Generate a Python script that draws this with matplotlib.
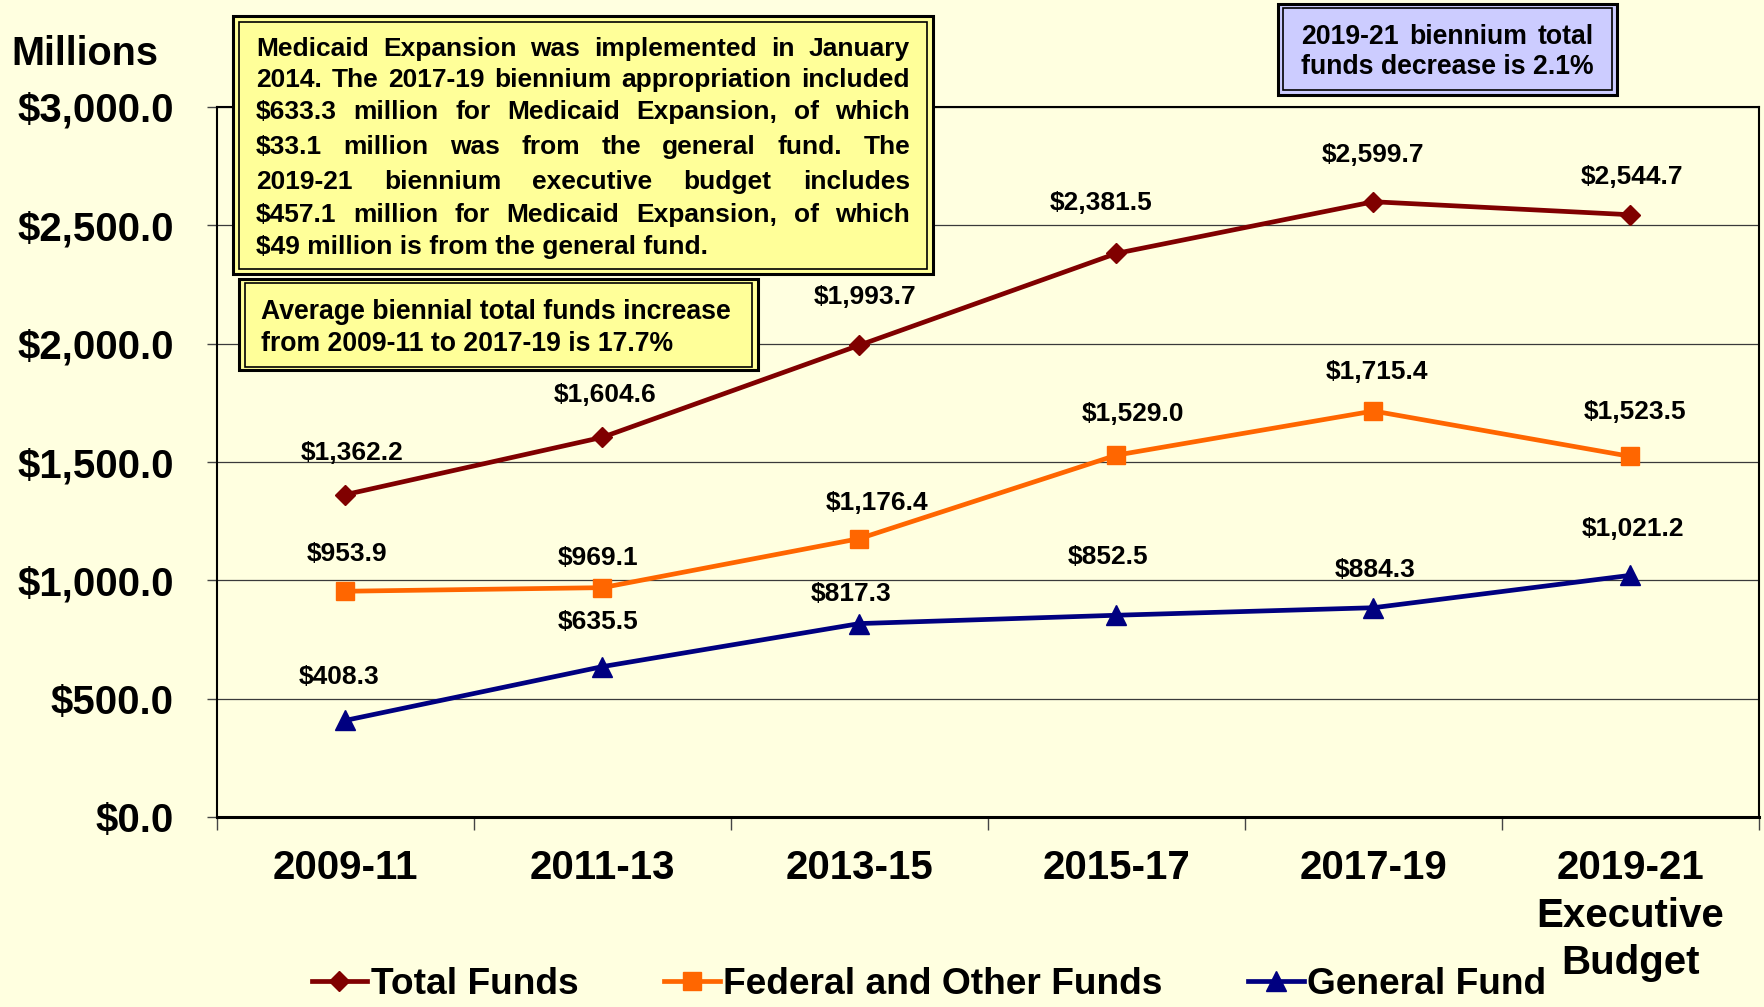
import matplotlib
matplotlib.use('Agg')
import matplotlib.pyplot as plt
from matplotlib.patches import Rectangle
from matplotlib.lines import Line2D
import numpy as np

plt.rcParams['font.family'] = ['Liberation Sans', 'DejaVu Sans']
plt.rcParams['font.weight'] = 'bold'
plt.rcParams['text.parse_math'] = False

# ---------------- data ----------------
categories = ['2009-11', '2011-13', '2013-15', '2015-17', '2017-19',
              '2019-21\nExecutive\nBudget']
total_funds = [1362.2, 1604.6, 1993.7, 2381.5, 2599.7, 2544.7]
federal_other = [953.9, 969.1, 1176.4, 1529.0, 1715.4, 1523.5]
general_fund = [408.3, 635.5, 817.3, 852.5, 884.3, 1021.2]
series_names = ['Total Funds', 'Federal and Other Funds', 'General Fund']
y_ticks = [0, 500, 1000, 1500, 2000, 2500, 3000]

note_main = ["Medicaid Expansion was implemented in January",
             "2014. The 2017-19 biennium appropriation included",
             "$633.3 million for Medicaid Expansion, of which",
             "$33.1 million was from the general fund. The",
             "2019-21 biennium executive budget includes",
             "$457.1 million for Medicaid Expansion, of which",
             "$49 million is from the general fund."]
note_avg = ["Average biennial total funds increase",
            "from 2009-11 to 2017-19 is 17.7%"]
note_dec = ["2019-21  biennium  total",
            "funds decrease is 2.1%"]

# ---------------- styles / positions ----------------
W, H = 1765, 1007
BG = '#FFFFE0'
colors = ['#800000', '#FF6600', '#000080']
markers = ['D', 's', '^']
msizes = [10, 13, 14]
# label offsets in pixels (dx, dy) per series
label_dx = [[7, 3, 6, -15, -1, 1], [2, -4, 18, 16, 3, 5], [-6, -4, -8, -8, 2, 2]]
label_dy = [[42, 42, 48, 50, 47, 38], [37, 30, 36, 41, 39, 44], [43, 45, 30, 58, 38, 46]]

fig = plt.figure(figsize=(W / 100, H / 100), dpi=100, facecolor=BG)
ax = fig.add_axes([217 / W, 1 - 817 / H, (1759 - 217) / W, (817 - 107) / H])
ax.set_facecolor(BG)

x = np.arange(len(categories))
series = [total_funds, federal_other, general_fund]
for k, vals in enumerate(series):
    ax.plot(x, vals, color=colors[k], lw=3.4, marker=markers[k], ms=msizes[k],
            mec=colors[k], mfc=colors[k], zorder=3, clip_on=False)
    for i, v in enumerate(vals):
        ax.annotate(f"${v:,.1f}", (x[i], v), xytext=(label_dx[k][i], label_dy[k][i]),
                    textcoords='offset pixels', ha='center', va='center',
                    fontsize=19, fontweight='bold', color='black', zorder=4)

ax.set_xlim(-0.5, len(categories) - 0.5)
ax.set_ylim(0, 3000)
ax.set_yticks(y_ticks)
ax.set_yticklabels([f"${t:,.1f}" for t in y_ticks], fontsize=29, fontweight='bold')
ax.set_xticks(x)
ax.set_xticklabels(categories, fontsize=29, fontweight='bold', linespacing=1.32)
ax.set_xticks(np.arange(-0.5, len(categories), 1.0), minor=True)
ax.tick_params(axis='x', which='major', length=0, pad=23)
ax.tick_params(axis='x', which='minor', length=9, width=1, direction='out', color='#444444')
ax.tick_params(axis='y', which='major', length=7, width=1, direction='out', pad=24,
               color='#444444')
ax.yaxis.grid(True, color='#3a3a3a', lw=0.9)
ax.set_axisbelow(True)
for s in ax.spines.values():
    s.set_color('black')
    s.set_linewidth(1.5)
ax.spines['bottom'].set_linewidth(2.2)

fig.text(11 / W, 1 - 54 / H, 'Millions', fontsize=28.5, fontweight='bold',
         ha='left', va='center')

# ---------------- legend ----------------
handles = [Line2D([0], [0], color=colors[k], lw=3.4, marker=markers[k], ms=msizes[k],
                  mec=colors[k], mfc=colors[k]) for k in range(3)]
fig.legend(handles, series_names, loc='center', bbox_to_anchor=(929 / W, 1 - 984 / H),
           ncol=3, frameon=False, handlelength=1.5, handletextpad=0.1,
           columnspacing=2.3, borderpad=0, prop={'weight': 'bold', 'size': 26.7})

# ---------------- text boxes ----------------
renderer = fig.canvas.get_renderer()


def fx(px):
    return px / W


def fy(py):
    return 1 - py / H


def box(x0, y0, x1, y1, ix0, iy0, ix1, iy1, fc):
    fig.add_artist(Rectangle((fx(x0), fy(y1)), fx(x1) - fx(x0), fy(y0) - fy(y1),
                             transform=fig.transFigure, facecolor=fc, edgecolor='black',
                             lw=2.2, zorder=10))
    fig.add_artist(Rectangle((fx(ix0), fy(iy1)), fx(ix1) - fx(ix0), fy(iy0) - fy(iy1),
                             transform=fig.transFigure, facecolor=fc, edgecolor='black',
                             lw=1.2, zorder=10))


def put_line(text, x0, x1, ybase, fs, justify):
    if not justify:
        fig.text(fx(x0), fy(ybase), text, fontsize=fs, fontweight='bold',
                 ha='left', va='baseline', zorder=11)
        return
    words = text.split()
    arts = [fig.text(0, 0, w, fontsize=fs, fontweight='bold', ha='left',
                     va='baseline', zorder=11) for w in words]
    widths = [a.get_window_extent(renderer).width for a in arts]
    gap = (x1 - x0 - sum(widths)) / max(len(words) - 1, 1)
    cx = x0
    for a, w in zip(arts, widths):
        a.set_position((fx(cx), fy(ybase)))
        cx += w + gap


# main note box
box(233, 16, 933, 274, 239, 22, 927, 269, '#FFFF99')
centers = [47, 78, 110, 145, 180, 213, 245]
for i, (line, c) in enumerate(zip(note_main, centers)):
    put_line(line, 256, 910, c + 9, 19, justify=(i < len(note_main) - 1))

# average increase box
box(239, 279, 758, 370, 245, 283, 752, 367, '#FFFF99')
for line, c in zip(note_avg, [310, 342]):
    put_line(line, 261, 740, c + 9, 19.2, justify=False)

# decrease box
box(1278, 4, 1617, 95, 1283, 8, 1612, 90, '#CCCCFF')
put_line(note_dec[0], 1301, 1594, 35 + 9, 19.2, justify=True)
put_line(note_dec[1], 1301, 1594, 65 + 9, 19.2, justify=False)

fig.savefig('out.png', dpi=100, facecolor=BG)
